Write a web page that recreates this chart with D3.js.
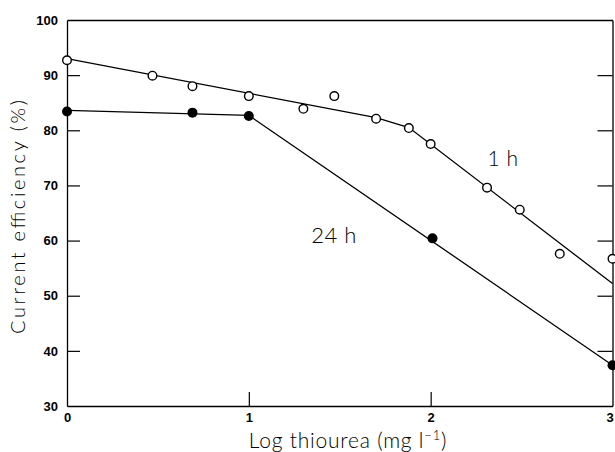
<!DOCTYPE html>
<html>
<head>
<meta charset="utf-8">
<script src="https://cdn.jsdelivr.net/npm/d3@7"></script>
<style>
  html, body { margin: 0; padding: 0; background: #fff; }
  svg { display: block; }
  .tick text { font-family: "Liberation Sans", Arial, sans-serif; font-size: 13px; fill: #000; }
  .title { font-family: "Lato", "DejaVu Sans", sans-serif; font-weight: 300; fill: #000; }
</style>
</head>
<body>
<svg id="chart" width="615" height="452"></svg>
<script>
// Data
const xTicks = [0, 1, 2, 3];
const yTicks = [30, 40, 50, 60, 70, 80, 90, 100];

// 1 h (open circles)
const x1h = [0, 0.47, 0.69, 1.0, 1.3, 1.47, 1.7, 1.88, 2.0, 2.31, 2.49, 2.71, 3.0];
const y1h = [92.7, 89.9, 88.0, 86.2, 83.9, 86.2, 82.1, 80.4, 77.5, 69.6, 65.6, 57.6, 56.7];
// 1 h fitted line
const x1hLine = [0, 1.7, 1.88, 3.0];
const y1hLine = [93.0, 82.3, 80.5, 52.2];

// 24 h (filled circles)
const x24h = [0, 0.69, 1.0, 2.01, 3.0];
const y24h = [83.4, 83.2, 82.6, 60.4, 37.4];
// 24 h fitted line
const x24hLine = [0, 1.0, 3.0];
const y24hLine = [83.6, 82.7, 37.4];

const svg = d3.select("#chart");
const L = 67, R = 612.5, T = 20, B = 406;
const x = d3.scaleLinear().domain([0, 3]).range([L, R]);
const y = d3.scaleLinear().domain([30, 100]).range([B, T]);

// left axis
const gl = svg.append("g").attr("transform", `translate(${L},0)`)
  .call(d3.axisLeft(y).tickValues(yTicks).tickSizeInner(-13).tickSizeOuter(0).tickPadding(9).tickFormat(d3.format("d")));
gl.selectAll(".tick").filter(d => d === 30 || d === 100).select("line").remove();
// right axis
const gr = svg.append("g").attr("transform", `translate(${R},0)`)
  .call(d3.axisRight(y).tickValues(yTicks).tickSizeInner(-15).tickSizeOuter(0).tickFormat(""));
gr.selectAll(".tick").filter(d => d === 30 || d === 100).select("line").remove();
// bottom axis
const gb = svg.append("g").attr("transform", `translate(0,${B})`)
  .call(d3.axisBottom(x).tickValues(xTicks).tickSizeInner(-14).tickSizeOuter(0).tickPadding(7).tickFormat(d3.format("d")));
gb.selectAll(".tick").filter(d => d === 0 || d === 3).select("line").remove();
gb.selectAll(".tick").filter(d => d === 3).select("text").attr("dx", -3);
// top axis (no ticks)
svg.append("g").attr("transform", `translate(0,${T})`)
  .call(d3.axisTop(x).tickValues([]).tickSizeOuter(0));

svg.selectAll(".domain").attr("stroke", "#000").attr("stroke-width", 1.3);
svg.selectAll(".tick line").attr("stroke", "#000").attr("stroke-width", 1.2);
svg.selectAll(".tick text").attr("font-weight", "bold");

const line = d3.line().x(d => x(d[0])).y(d => y(d[1]));
const pts1 = x1hLine.map((v, i) => [v, y1hLine[i]]);
const pts24 = x24hLine.map((v, i) => [v, y24hLine[i]]);
svg.append("path").attr("d", line(pts1)).attr("fill", "none").attr("stroke", "#000").attr("stroke-width", 1.3);
svg.append("path").attr("d", line(pts24)).attr("fill", "none").attr("stroke", "#000").attr("stroke-width", 1.3);

svg.append("g").selectAll("circle").data(x1h.map((v, i) => [v, y1h[i]])).join("circle")
  .attr("cx", d => x(d[0])).attr("cy", d => y(d[1])).attr("r", 4.3)
  .attr("fill", "#fff").attr("stroke", "#000").attr("stroke-width", 1.4);
svg.append("g").selectAll("circle").data(x24h.map((v, i) => [v, y24h[i]])).join("circle")
  .attr("cx", d => x(d[0])).attr("cy", d => y(d[1])).attr("r", 5)
  .attr("fill", "#000");

// labels
svg.append("text").attr("class", "title").attr("x", 503).attr("y", 166)
  .attr("text-anchor", "middle").attr("font-size", 21).attr("letter-spacing", 0.5).text("1 h");
svg.append("text").attr("class", "title").attr("x", 334).attr("y", 243)
  .attr("text-anchor", "middle").attr("font-size", 22).attr("letter-spacing", 0.5).text("24 h");

// axis titles
svg.append("text").attr("class", "title")
  .attr("transform", `translate(25,334) rotate(-90)`)
  .attr("text-anchor", "start").attr("font-size", 20)
  .attr("textLength", 234).attr("lengthAdjust", "spacing")
  .text("Current efficiency  (%)");
const xt = svg.append("text").attr("class", "title")
  .attr("x", 348).attr("y", 448).attr("text-anchor", "middle").attr("font-size", 21).attr("letter-spacing", 0.8);
xt.append("tspan").text("Log thiourea (mg l");
xt.append("tspan").attr("dy", -8).attr("font-size", 13).text("−1");
xt.append("tspan").attr("dy", 8).text(")");
</script>
</body>
</html>
